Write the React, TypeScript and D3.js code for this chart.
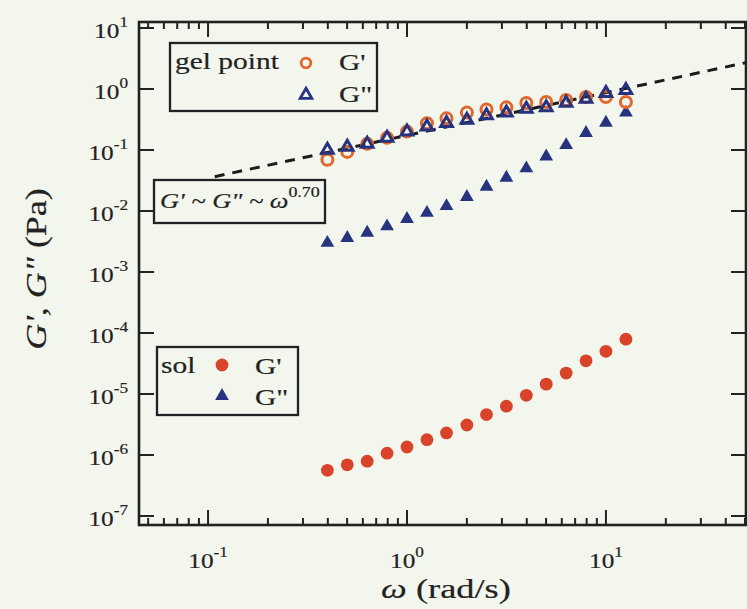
import { useEffect, useRef } from "react"
import * as d3 from "d3"

// frequency (rad/s), shared by all four series
const omega = [0.398, 0.501, 0.631, 0.794, 1.0, 1.26, 1.58, 2.0, 2.51, 3.16, 3.98, 5.01, 6.31, 7.94, 10.0, 12.6]
// gel point
const gelG1 = [0.069, 0.093, 0.126, 0.158, 0.2, 0.275, 0.33, 0.41, 0.46, 0.5, 0.59, 0.61, 0.66, 0.74, 0.74, 0.61]
const gelG2 = [0.1, 0.112, 0.126, 0.158, 0.2, 0.24, 0.275, 0.31, 0.37, 0.41, 0.47, 0.5, 0.59, 0.69, 0.85, 0.96]
// sol
const solG1 = [5.6e-7, 6.9e-7, 7.9e-7, 1.07e-6, 1.35e-6, 1.78e-6, 2.3e-6, 3.1e-6, 4.6e-6, 6.3e-6, 9.5e-6, 1.45e-5, 2.2e-5, 3.5e-5, 5.0e-5, 7.9e-5]
const solG2 = [3.0e-3, 3.6e-3, 4.4e-3, 5.6e-3, 7.4e-3, 9.3e-3, 1.2e-2, 1.7e-2, 2.5e-2, 3.5e-2, 5.0e-2, 7.8e-2, 0.12, 0.19, 0.28, 0.41]
// power-law guide G ~ w^0.70 (end points)
const fitOmega = [0.108, 50.5]
const fitG = [0.0365, 2.7]

const xDecades = [-1, 0, 1]
const yDecades = [-7, -6, -5, -4, -3, -2, -1, 0, 1]

const W = 747
const H = 609
const PAPER = "#f3f6ed"
const ORANGE = "#e2672c"
const RED = "#d8432a"
const NAVY = "#27337f"
const INK = "#222"
const SERIF = "'Liberation Serif', 'DejaVu Serif', serif"

type Part = { t: string; italic?: boolean; sup?: boolean }

export default function App() {
  const svgRef = useRef<SVGSVGElement>(null)

  useEffect(() => {
    if (!svgRef.current) return
    const svg = d3.select(svgRef.current)
    svg.selectAll("*").remove()

    const left = 139, right = 746, top = 22, bottom = 525

    const x = d3.scaleLog().domain([Math.pow(10, -1.347), Math.pow(10, 1.704)]).range([left, right])
    const y = d3.scaleLog().domain([Math.pow(10, -7.148), Math.pow(10, 1.098)]).range([bottom, top])

    svg.append("rect").attr("width", W).attr("height", H).attr("fill", PAPER)

    const tri = d3.symbol().type(d3.symbolTriangle).size(58)
    const triFill = d3.symbol().type(d3.symbolTriangle).size(82)

    // text helper: the printed serif runs wide, so stretch along the baseline
    const label = (px: number, py: number, parts: Part[], size: number, opts: { anchor?: string; sx?: number; rotate?: number } = {}) => {
      const gT = svg.append("g")
        .attr("transform", `translate(${px},${py}) rotate(${opts.rotate || 0}) scale(${opts.sx || 1.25},1)`)
      const t = gT.append("text")
        .attr("font-family", SERIF).attr("font-size", size).attr("fill", INK)
        .attr("stroke", INK).attr("stroke-width", 0.2)
        .attr("text-anchor", opts.anchor || "start")
      let raised = false
      parts.forEach(p => {
        const s = t.append("tspan").text(p.t)
        if (p.italic) s.attr("font-style", "italic")
        if (p.sup && !raised) { s.attr("dy", -size * 0.48).attr("font-size", size * 0.68); raised = true }
        else if (!p.sup && raised) { s.attr("dy", size * 0.48); raised = false }
      })
    }

    // ticks
    const minorX: number[] = []
    for (let e = -2; e <= 1; e++) for (let m = 2; m <= 9; m++) {
      const v = m * Math.pow(10, e)
      if (v > x.domain()[0] && v < x.domain()[1]) minorX.push(v)
    }
    const majorX = xDecades.map(e => Math.pow(10, e))
    const majorY = yDecades.map(e => Math.pow(10, e))

    const tickG = svg.append("g").attr("stroke", INK).attr("stroke-width", 2)
    minorX.forEach(v => {
      tickG.append("line").attr("x1", x(v)).attr("x2", x(v)).attr("y1", bottom).attr("y2", bottom - 7)
      tickG.append("line").attr("x1", x(v)).attr("x2", x(v)).attr("y1", top).attr("y2", top + 7)
    })
    majorX.forEach(v => {
      tickG.append("line").attr("x1", x(v)).attr("x2", x(v)).attr("y1", bottom).attr("y2", bottom - 15)
      tickG.append("line").attr("x1", x(v)).attr("x2", x(v)).attr("y1", top).attr("y2", top + 15)
    })
    majorY.forEach(v => {
      tickG.append("line").attr("x1", left).attr("x2", left + 15).attr("y1", y(v)).attr("y2", y(v))
      tickG.append("line").attr("x1", right).attr("x2", right - 15).attr("y1", y(v)).attr("y2", y(v))
    })

    svg.append("rect")
      .attr("x", left).attr("y", top)
      .attr("width", right - left).attr("height", bottom - top)
      .attr("fill", "none").attr("stroke", INK).attr("stroke-width", 2.6)

    // data
    svg.append("clipPath").attr("id", "plotclip").append("rect")
      .attr("x", left).attr("y", top).attr("width", right - left).attr("height", bottom - top)
    const g = svg.append("g").attr("clip-path", "url(#plotclip)")

    const fit = fitOmega.map((w, i) => ({ w, v: fitG[i] }))
    g.append("path").datum(fit)
      .attr("d", d3.line<{ w: number; v: number }>().x(d => x(d.w)).y(d => y(d.v)))
      .attr("fill", "none").attr("stroke", "#1c1c1c").attr("stroke-width", 3)
      .attr("stroke-dasharray", "10,8")

    const pts = (vals: number[]) => omega.map((w, i) => ({ w, v: vals[i] }))

    g.selectAll(".solG1").data(pts(solG1)).enter().append("circle")
      .attr("cx", d => x(d.w)).attr("cy", d => y(d.v)).attr("r", 6.4).attr("fill", RED)
    g.selectAll(".solG2").data(pts(solG2)).enter().append("path")
      .attr("d", triFill).attr("transform", d => `translate(${x(d.w)},${y(d.v)})`).attr("fill", NAVY)
    g.selectAll(".gelG1").data(pts(gelG1)).enter().append("circle")
      .attr("cx", d => x(d.w)).attr("cy", d => y(d.v)).attr("r", 5.5)
      .attr("fill", "none").attr("stroke", ORANGE).attr("stroke-width", 3)
    g.selectAll(".gelG2").data(pts(gelG2)).enter().append("path")
      .attr("d", tri).attr("transform", d => `translate(${x(d.w)},${y(d.v)})`)
      .attr("fill", "none").attr("stroke", NAVY).attr("stroke-width", 3)

    // legend boxes
    const box = (bx: number, by: number, bw: number, bh: number) =>
      svg.append("rect").attr("x", bx).attr("y", by).attr("width", bw).attr("height", bh)
        .attr("fill", PAPER).attr("stroke", INK).attr("stroke-width", 2.3)
    box(170, 43, 207, 68)
    box(154, 180, 171, 43)
    box(157, 347, 141, 68)

    svg.append("circle").attr("cx", 306).attr("cy", 63).attr("r", 4.8)
      .attr("fill", "none").attr("stroke", ORANGE).attr("stroke-width", 2.8)
    svg.append("path").attr("d", tri).attr("transform", "translate(306,95)")
      .attr("fill", "none").attr("stroke", NAVY).attr("stroke-width", 2.8)
    svg.append("circle").attr("cx", 222).attr("cy", 365).attr("r", 6.4).attr("fill", RED)
    svg.append("path").attr("d", triFill).attr("transform", "translate(222,396)").attr("fill", NAVY)

    // texts
    label(175, 69, [{ t: "gel point" }], 23, { sx: 1.28 })
    label(339, 70, [{ t: "G'" }], 23, { sx: 1.28 })
    label(339, 102, [{ t: "G\"" }], 23, { sx: 1.28 })
    label(161, 373, [{ t: "sol" }], 23, { sx: 1.28 })
    label(255, 374, [{ t: "G'" }], 23, { sx: 1.28 })
    label(255, 405, [{ t: "G\"" }], 23, { sx: 1.28 })
    label(160, 208, [{ t: "G' ~ G\" ~ ω", italic: true }, { t: "0.70", sup: true }], 22, { sx: 1.2 })

    xDecades.forEach(e => {
      label(x(Math.pow(10, e)), 568, [{ t: "10" }, { t: String(e), sup: true }], 22, { anchor: "middle", sx: 1.15 })
    })
    yDecades.forEach(e => {
      label(128, y(Math.pow(10, e)) + 10, [{ t: "10" }, { t: String(e), sup: true }], 22, { anchor: "end", sx: 1.15 })
    })

    label(446, 598, [{ t: "ω", italic: true }, { t: "  (rad/s)" }], 28, { anchor: "middle", sx: 1.3 })
    label(46, 269, [{ t: "G', G\"", italic: true }, { t: " (Pa)" }], 29, { anchor: "middle", sx: 1.24, rotate: -90 })
  }, [])

  return (
    <>
      <style>{`body{margin:0}`}</style>
      <svg ref={svgRef} width={W} height={H} style={{ display: "block" }} />
    </>
  )
}
